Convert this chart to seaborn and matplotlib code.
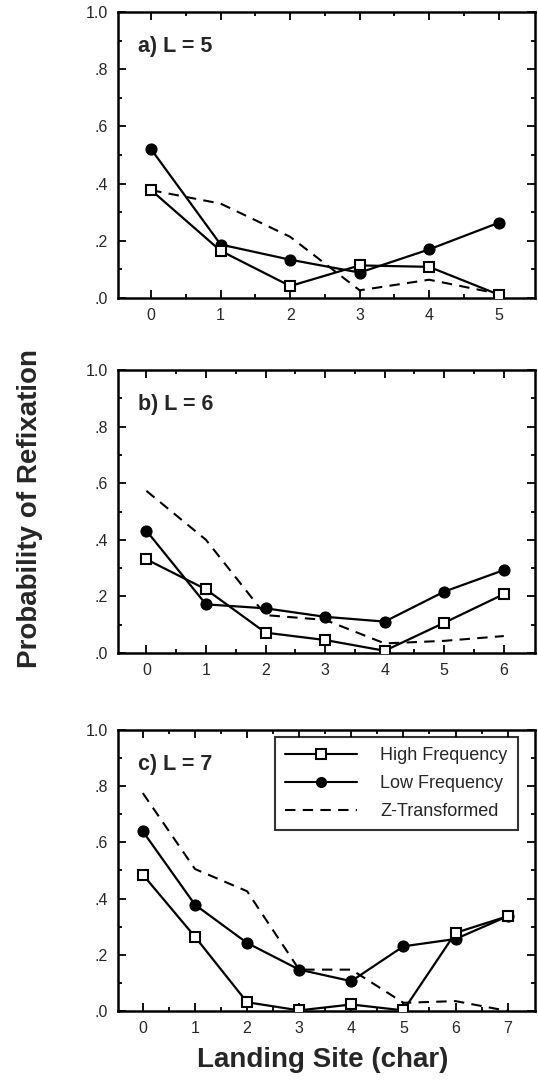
import numpy as np
import pandas as pd
import matplotlib
matplotlib.use("Agg")
import matplotlib.pyplot as plt
from matplotlib.lines import Line2D
from matplotlib.ticker import FixedLocator
import seaborn as sns

# --- data (probability of refixation by landing site) ---
panel_titles = ["a) L = 5", "b) L = 6", "c) L = 7"]
series_names = ["High Frequency", "Low Frequency", "Z-Transformed"]
y_ticks = [0.0, 0.2, 0.4, 0.6, 0.8, 1.0]
y_tick_labels = [".0", ".2", ".4", ".6", ".8", "1.0"]

high_L5 = [0.377, 0.165, 0.042, 0.114, 0.109, 0.012]
low_L5 = [0.520, 0.187, 0.134, 0.089, 0.170, 0.263]
z_L5 = [0.377, 0.330, 0.214, 0.027, 0.064, 0.015]

high_L6 = [0.331, 0.225, 0.072, 0.046, 0.008, 0.107, 0.208]
low_L6 = [0.432, 0.172, 0.158, 0.128, 0.111, 0.217, 0.293]
z_L6 = [0.573, 0.400, 0.134, 0.117, 0.034, 0.043, 0.060]

high_L7 = [0.485, 0.264, 0.031, 0.002, 0.023, 0.002, 0.278, 0.337]
low_L7 = [0.639, 0.378, 0.242, 0.147, 0.106, 0.230, 0.256, 0.337]
z_L7 = [0.775, 0.505, 0.426, 0.147, 0.147, 0.029, 0.035, 0.000]

panels = [(high_L5, low_L5, z_L5), (high_L6, low_L6, z_L6), (high_L7, low_L7, z_L7)]

sns.set_style("ticks")
plt.rcParams["font.family"] = ["Liberation Sans", "DejaVu Sans"]

fig = plt.figure(figsize=(5.38, 10.81), dpi=100)
# axes boxes in figure fractions (left, bottom, width, height)
boxes = [
    [0.219, 0.7243, 0.775, 0.2646],
    [0.219, 0.3959, 0.775, 0.2618],
    [0.219, 0.0648, 0.775, 0.2600],
]

for i, (hi, lo, zt) in enumerate(panels):
    ax = fig.add_axes(boxes[i])
    n = len(hi)
    sites = np.arange(n)
    df = pd.DataFrame({"site": sites, "high": hi, "low": lo, "z": zt})

    sns.lineplot(data=df, x="site", y="z", ax=ax, color="black", lw=1.5,
                 linestyle=(0, (5, 3.5)), zorder=2)
    sns.lineplot(data=df, x="site", y="low", ax=ax, color="black", lw=1.6,
                 marker="o", markersize=8, markerfacecolor="black",
                 markeredgecolor="black", zorder=3)
    sns.lineplot(data=df, x="site", y="high", ax=ax, color="black", lw=1.6,
                 marker="s", markersize=7, markerfacecolor="white",
                 markeredgecolor="black", markeredgewidth=1.5, zorder=4)

    ax.set_xlim(-0.48, n - 1 + 0.52)
    ax.set_ylim(0, 1.0)
    ax.set_xlabel("")
    ax.set_ylabel("")

    ax.xaxis.set_major_locator(FixedLocator(sites))
    ax.xaxis.set_minor_locator(FixedLocator(sites[:-1] + 0.5))
    ax.yaxis.set_major_locator(FixedLocator(y_ticks))
    ax.yaxis.set_minor_locator(FixedLocator([0.1, 0.3, 0.5, 0.7, 0.9]))
    ax.set_xticklabels([str(s) for s in sites])
    ax.set_yticklabels(y_tick_labels)

    ax.tick_params(which="both", direction="in", top=True, right=True,
                   width=1.3, color="black")
    ax.tick_params(which="major", length=6, labelsize=11.5, pad=7)
    ax.tick_params(which="minor", length=3)
    for sp in ax.spines.values():
        sp.set_visible(True)
        sp.set_linewidth(1.8)
        sp.set_color("black")

    ax.text(0.048, 0.915, panel_titles[i], transform=ax.transAxes,
            fontsize=15.5, fontweight="bold", va="top", ha="left")

    if i == 2:
        handles = [
            Line2D([0], [0], color="black", lw=1.5, marker="s", markersize=7,
                   markerfacecolor="white", markeredgewidth=1.5),
            Line2D([0], [0], color="black", lw=1.5, marker="o", markersize=7,
                   markerfacecolor="black"),
            Line2D([0], [0], color="black", lw=1.5, linestyle=(0, (5, 3.5))),
        ]
        leg = ax.legend(handles, series_names, loc="upper right",
                        bbox_to_anchor=(0.959, 0.975), fontsize=13,
                        frameon=True, fancybox=False, handlelength=4.0,
                        handletextpad=1.3, borderpad=0.55, labelspacing=0.62,
                        borderaxespad=0.0)
        leg.get_frame().set_edgecolor("black")
        leg.get_frame().set_linewidth(1.5)

fig.text(0.055, 0.530, "Probability of Refixation", rotation=90,
         fontsize=20, fontweight="bold", ha="center", va="center")
fig.text(0.600, 0.019, "Landing Site (char)", fontsize=20,
         fontweight="bold", ha="center", va="center")

fig.savefig("out.png", dpi=100)
